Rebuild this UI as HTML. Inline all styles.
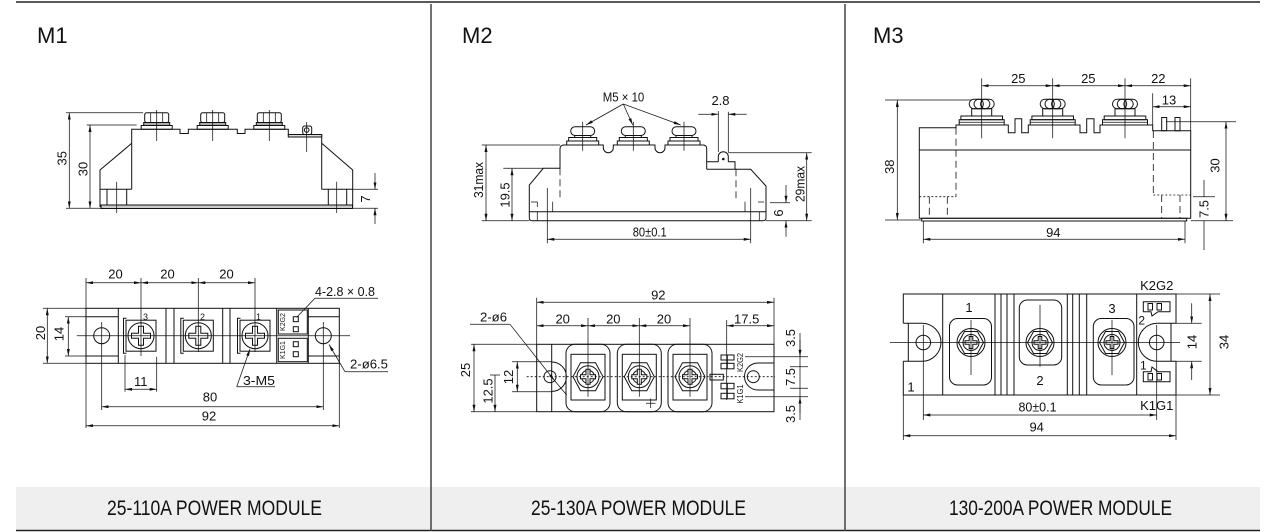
<!DOCTYPE html>
<html><head><meta charset="utf-8">
<style>
html,body{margin:0;padding:0;background:#fff;}
svg{display:block;}
.o{fill:none;stroke:#111;stroke-width:1}
.d{fill:none;stroke:#111;stroke-width:.75}
.dm{fill:none;stroke:#111;stroke-width:.75;marker-start:url(#ar);marker-end:url(#ar)}
.da{fill:none;stroke:#111;stroke-width:.75;marker-end:url(#ar)}
.ds{fill:none;stroke:#111;stroke-width:.8;stroke-dasharray:7 4}
.dt{fill:none;stroke:#111;stroke-width:.8;stroke-dasharray:2 2}
text{font-family:"Liberation Sans",Arial,sans-serif;font-size:13px;fill:#111}
.h{font-size:22px}
.f{font-size:21px}
</style></head><body>
<svg width="1286" height="532" viewBox="0 0 1286 532" xmlns="http://www.w3.org/2000/svg">
<defs>
<marker id="ar" viewBox="0 0 7 3" refX="7" refY="1.5" markerWidth="7" markerHeight="3" markerUnits="userSpaceOnUse" orient="auto-start-reverse"><path d="M0,0 L7,1.5 L0,3 z" fill="#111"/></marker>
<g id="m1t">
<rect class="o" x="-15.5" y="125.5" width="31" height="3.8"/>
<rect class="o" x="-13" y="122.5" width="26" height="3" style="fill:#aaa"/>
<rect class="o" x="-12" y="112.7" width="24" height="9.8" rx="2"/>
<path class="d" d="M-6,112.7V122.5M6,112.7V122.5M0,110V141"/>
</g>
<g id="m1s">
<path class="o" d="M-14.5,-17.5H-17.5V17.5H-14.5"/>
<rect class="o" x="-15" y="-15.5" width="30" height="31"/>
<circle class="o" r="13"/>
<path class="o" style="fill:#fff" d="M-2.5,-9.5H2.5V-2.5H9.5V2.5H2.5V9.5H-2.5V2.5H-9.5V-2.5H-2.5Z"/>
</g>
<g id="m2t">
<rect class="o" x="-12" y="126.7" width="24" height="8.8" rx="4.4"/>
<rect class="o" x="-8" y="135.5" width="16" height="2"/>
<rect class="o" x="-14" y="137.5" width="28" height="3.5"/>
<rect class="o" x="-16" y="141" width="32" height="4"/>
<path class="d" d="M0,121.7V150.7"/>
</g>
<g id="m2s">
<polygon class="o" points="-15,0 -7.5,-14 7.5,-14 15,0 7.5,14 -7.5,14"/>
<circle class="o" r="11"/>
<circle class="o" r="6.5"/>
<path class="o" style="fill:#fff" d="M-2,-7.5H2V-2H7.5V2H2V7.5H-2V2H-7.5V-2H-2Z"/>
</g>
<g id="m2f">
<rect class="o" x="-22" y="-32.4" width="44" height="67.4" rx="9"/>
<rect class="o" x="-17" y="-22.4" width="34" height="45.7"/>
<use href="#m2s"/>
<path class="d" d="M0,-58.7V20"/>
</g>
<g id="m3t">
<rect class="o" x="-22.5" y="119.7" width="45" height="5.3"/>
<path class="d" d="M-22.5,122.3H22.5"/>
<rect class="o" x="-20.8" y="116" width="41.6" height="3.7"/>
<rect class="o" x="-10" y="108.7" width="20" height="7.3"/>
<rect class="o" x="-12.5" y="99.3" width="25" height="9.4" rx="4.7"/>
<circle class="o" cx="-3" cy="104" r="4.7"/>
<circle class="o" cx="3.5" cy="104" r="4.7"/>
<path class="d" d="M0,78.3V138.3"/>
</g>
<g id="m3s">
<circle class="o" r="14"/>
<polygon class="o" points="-12.5,0 -6.5,-11 6.5,-11 12.5,0 6.5,11 -6.5,11"/>
<circle class="o" r="8"/>
<path class="o" style="fill:#fff" d="M-1.8,-6H1.8V-1.8H6V1.8H1.8V6H-1.8V1.8H-6V-1.8H-1.8Z"/>
</g>
</defs>

<!-- frame -->
<rect x="16" y="487" width="1244" height="43" fill="#efefef"/>
<line x1="16" y1="2" x2="1260" y2="2" stroke="#222" stroke-width="1.6"/>
<line x1="16" y1="530.5" x2="1260" y2="530.5" stroke="#222" stroke-width="1.6"/>
<line x1="431" y1="4" x2="431" y2="531" stroke="#444" stroke-width="1.5"/>
<line x1="845" y1="4" x2="845" y2="531" stroke="#444" stroke-width="1.5"/>
<text class="h" x="37" y="43">M1</text>
<text class="h" x="462" y="43">M2</text>
<text class="h" x="873" y="43">M3</text>
<text class="f" x="107" y="515" textLength="215" lengthAdjust="spacingAndGlyphs">25-110A POWER MODULE</text>
<text class="f" x="531" y="515" textLength="215" lengthAdjust="spacingAndGlyphs">25-130A POWER MODULE</text>
<text class="f" x="949" y="515" textLength="223" lengthAdjust="spacingAndGlyphs">130-200A POWER MODULE</text>

<!-- ================= M1 side ================= -->
<path class="o" d="M100,207V170L131.7,143.3"/>
<path class="o" d="M131.7,189.3V129.3H180V133.5H188.3V129.3H237.3V133.5H245V129.3H288.3V134.5H321.7V189.3"/>
<rect class="o" x="288.3" y="134.5" width="33.4" height="2.5" style="fill:#ddd"/>
<path class="o" d="M321.7,143.3L352.7,170V207"/>
<path class="o" d="M100,189.3H131.7M321.7,189.3H352.7"/>
<rect class="o" x="101" y="205" width="251.5" height="3.5" style="fill:#ccc"/>
<path class="o" d="M107,189.3V205M126.7,189.3V205M328.3,189.3V205M346.7,189.3V205"/>
<path class="d" d="M116.7,181.7V213M336.7,181.7V213"/>
<use href="#m1t" x="156.7"/>
<use href="#m1t" x="212.7"/>
<use href="#m1t" x="269.3"/>
<rect class="o" x="302.7" y="126" width="9" height="8.5" rx="2"/>
<circle class="o" cx="306.7" cy="130" r="2.3"/>
<path class="d" d="M306.7,122V152"/>
<path class="d" d="M66,112.7H143M66,208.3H103M86.7,125H136.7"/>
<path class="dm" d="M69.3,112.7V208.3"/>
<path class="dm" d="M90,125V208.3"/>
<text transform="translate(66.5,158.3) rotate(-90)" text-anchor="middle">35</text>
<text transform="translate(87.3,169) rotate(-90)" text-anchor="middle">30</text>
<path class="d" d="M352.7,189.3H378M352.7,208.3H378"/>
<path class="da" d="M375,173V189.3"/>
<path class="da" d="M375,224V208.3"/>
<text transform="translate(370,199) rotate(-90)" text-anchor="middle">7</text>

<!-- ================= M1 top ================= -->
<rect class="o" x="86" y="308.3" width="253.3" height="55"/>
<path class="o" d="M86,316.7H118.3M86,356H118.3M308.3,316.7H339.3M308.3,356H339.3"/>
<path class="o" d="M118.3,308.3V363.3M166,308.3V363.3M174,308.3V363.3M222.7,308.3V363.3M230,308.3V363.3M276.7,308.3V363.3M308.3,308.3V363.3"/>
<circle class="o" cx="101.7" cy="335.7" r="8"/>
<circle class="o" cx="323.3" cy="335.7" r="8"/>
<rect class="o" x="278.3" y="310" width="29" height="24"/>
<rect class="o" x="278.3" y="338.3" width="29" height="23.4"/>
<rect class="o" x="293.3" y="316.7" width="5" height="5"/>
<rect class="o" x="293.3" y="326.7" width="5" height="5"/>
<rect class="o" x="293.3" y="341.7" width="5" height="5"/>
<rect class="o" x="293.3" y="351.7" width="5" height="5"/>
<text transform="translate(285,322) rotate(-90)" text-anchor="middle" style="font-size:7px">K2G2</text>
<text transform="translate(285,350) rotate(-90)" text-anchor="middle" style="font-size:7px">K1G1</text>
<use href="#m1s" x="141" y="335.7"/>
<use href="#m1s" x="198.3" y="335.7"/>
<use href="#m1s" x="255" y="335.7"/>
<text x="143" y="320" style="font-size:9px">3</text>
<text x="200" y="320" style="font-size:9px">2</text>
<text x="256" y="320" style="font-size:9px">1</text>
<path class="d" d="M76.7,335.7H350"/>
<path class="d" d="M101.7,322V410M323.3,322V410M141,278V356M198.3,278V352M255,278V352M86,278V428M339.3,363.3V428"/>
<path class="dm" d="M86,282.7H141"/>
<path class="dm" d="M141,282.7H198.3"/>
<path class="dm" d="M198.3,282.7H255"/>
<text x="115.5" y="278.3" text-anchor="middle">20</text>
<text x="167.5" y="278.3" text-anchor="middle">20</text>
<text x="226.5" y="278.3" text-anchor="middle">20</text>
<path class="d" d="M43,308.3H86M43,363.3H86M65,316.7H86M65,356H86"/>
<path class="dm" d="M47.3,308.3V363.3"/>
<path class="dm" d="M68.3,316.7V356"/>
<text transform="translate(45,333) rotate(-90)" text-anchor="middle">20</text>
<text transform="translate(63.3,334) rotate(-90)" text-anchor="middle">14</text>
<path class="d" d="M125,355V391.7M156.7,356.7V391.7"/>
<path class="dm" d="M125,389.3H156.7"/>
<text x="140.8" y="386" text-anchor="middle">11</text>
<path class="dm" d="M101.7,406.7H323.3"/>
<text x="210" y="401.7" text-anchor="middle">80</text>
<path class="dm" d="M86,425.7H339.3"/>
<text x="209" y="420.7" text-anchor="middle">92</text>
<text x="315" y="296" textLength="60" lengthAdjust="spacingAndGlyphs">4-2.8 × 0.8</text>
<path class="d" d="M378,298.3H315L296.7,317.3"/>
<text x="350" y="368.3" textLength="38" lengthAdjust="spacingAndGlyphs">2-ø6.5</text>
<path class="d" d="M388,371.7H345"/>
<path class="da" d="M345,371.7L329,344.5"/>
<text x="243" y="385" textLength="32" lengthAdjust="spacingAndGlyphs">3-M5</text>
<path class="d" d="M275,386.7H236.7"/>
<path class="da" d="M236.7,386.7L250,349"/>

<!-- ================= M2 side ================= -->
<path class="o" d="M529.3,217.7V185L543.3,168.3H560V149Q560,145 564,145H603.3V147.7A5,5 0 0 0 613.3,147.7V145H655V147.7A5,5 0 0 0 665,147.7V145H703Q706.7,145 706.7,149V169.3"/>
<path class="o" d="M706.7,161.7H718.3M728.3,161.7H735V169.3M706.7,169.3H750.7L766,186V217.7Q766,220.7 763,220.7H532.3Q529.3,220.7 529.3,217.7"/>
<path class="o" d="M718.3,161.7V156.7A5,5 0 0 1 728.3,156.7V161.7"/>
<circle cx="723.3" cy="159" r="1.3" fill="#111"/>
<path class="o" d="M529.3,211.7H766"/>
<path class="ds" d="M560,168.3V200M736,169.3V200"/>
<path class="d" d="M531,202H537.3V207M552.7,201.7V211.7M537.3,211.7V220.7M745,201.7V211.7M759.3,211.7V220.7M758,202H764"/>
<path class="d" d="M547.3,188V243.3M750.7,188V243.3"/>
<use href="#m2t" x="582.7"/>
<use href="#m2t" x="633.3"/>
<use href="#m2t" x="684"/>
<text x="602.7" y="101.7" textLength="41.6" lengthAdjust="spacingAndGlyphs">M5 × 10</text>
<path class="da" d="M623.3,104L586,125"/>
<path class="da" d="M623.3,104L632.7,125"/>
<path class="da" d="M623.3,104L680.7,125"/>
<path class="d" d="M718.3,111V152M728.3,111.7V152"/>
<path class="da" d="M698.3,114.3H718.3"/>
<path class="da" d="M746.7,114.3H728.3"/>
<text x="720.5" y="105" text-anchor="middle">2.8</text>
<path class="d" d="M481.7,145H560M481.7,220.7H529.3M503.3,168.3H543.3M728,152.7H811.7M766,220.7H811.7M770,202.7H790"/>
<path class="dm" d="M486,145V220.7"/>
<path class="dm" d="M512,168.3V220.7"/>
<path class="dm" d="M806.7,152.7V220.7"/>
<path class="da" d="M786,185V202.7"/>
<path class="da" d="M786,236.7V220.7"/>
<path class="dm" d="M547.3,239.3H750.7"/>
<text transform="translate(483,180) rotate(-90)" text-anchor="middle" textLength="36" lengthAdjust="spacingAndGlyphs">31max</text>
<text transform="translate(509.5,195) rotate(-90)" text-anchor="middle">19.5</text>
<text transform="translate(804.5,184) rotate(-90)" text-anchor="middle" textLength="36" lengthAdjust="spacingAndGlyphs">29max</text>
<text transform="translate(783,213) rotate(-90)" text-anchor="middle">6</text>
<text x="649.7" y="236.7" text-anchor="middle" textLength="34" lengthAdjust="spacingAndGlyphs">80±0.1</text>

<!-- ================= M2 top ================= -->
<rect class="o" x="536.7" y="344.3" width="237.3" height="67.4"/>
<path class="o" d="M551.7,344.3V411.7"/>
<path class="o" d="M551.7,362A14.7,14.7 0 0 1 551.7,391.4"/>
<circle class="o" cx="550" cy="376.7" r="6"/>
<circle class="o" cx="753.3" cy="376.7" r="6"/>
<use href="#m2f" x="588" y="376.7"/>
<use href="#m2f" x="639.3" y="376.7"/>
<use href="#m2f" x="690" y="376.7"/>
<path class="d" d="M646,403.3H655.5M650.7,398.5V408"/>
<rect class="o" x="721" y="355" width="13" height="5"/>
<rect class="o" x="721" y="363.3" width="13" height="5.5"/>
<rect class="o" x="721" y="383.3" width="13" height="5.5"/>
<rect class="o" x="721" y="393.3" width="13" height="5.5"/>
<path class="d" d="M727.5,355V368.8M727.5,383.3V398.8"/>
<rect class="o" x="710" y="374.3" width="13.3" height="5.7"/>
<text transform="translate(743,362.5) rotate(-90)" text-anchor="middle" style="font-size:8px" textLength="19" lengthAdjust="spacingAndGlyphs">K2G2</text>
<text transform="translate(743,394) rotate(-90)" text-anchor="middle" style="font-size:8px" textLength="19" lengthAdjust="spacingAndGlyphs">K1G1</text>
<path class="o" d="M774,363H758A13.5,13.5 0 0 0 758,390H774"/>
<path class="d" d="M745,356.7H808M745,396.7H808M790,366.7H808M790,388.3H808"/>
<path class="d" d="M800,333V420"/>
<path class="da" d="M800,340V356.7"/>
<path class="da" d="M800,413V396.7"/>
<text transform="translate(795,338) rotate(-90)" text-anchor="middle">3.5</text>
<text transform="translate(795,377) rotate(-90)" text-anchor="middle">7.5</text>
<text transform="translate(795,414) rotate(-90)" text-anchor="middle">3.5</text>
<path class="dt" d="M526.7,376.7H775"/>
<path class="d" d="M471,344.3H536.7M471,411.7H536.7M512,361.7H551.7M512,391.7H551.7M490,375H500"/>
<path class="dm" d="M474,344.3V411.7"/>
<path class="da" d="M495,375V411.7"/>
<path class="dm" d="M517.3,361.7V391.7"/>
<text transform="translate(470,370) rotate(-90)" text-anchor="middle">25</text>
<text transform="translate(492.5,391) rotate(-90)" text-anchor="middle">12.5</text>
<text transform="translate(513,377) rotate(-90)" text-anchor="middle">12</text>
<path class="d" d="M536.7,297.7V344.3M774,297.7V344.3M726.7,320V400"/>
<path class="dm" d="M536.7,302.3H774"/>
<path class="dm" d="M536.7,325.7H588"/>
<path class="dm" d="M588,325.7H639.3"/>
<path class="dm" d="M639.3,325.7H690"/>
<path class="dm" d="M726.7,325.7H774"/>
<text x="658.3" y="299.5" text-anchor="middle">92</text>
<text x="562.7" y="323.5" text-anchor="middle">20</text>
<text x="613.3" y="323.5" text-anchor="middle">20</text>
<text x="664" y="323.5" text-anchor="middle">20</text>
<text x="746.7" y="323.5" text-anchor="middle">17.5</text>
<text x="480" y="321.7" textLength="27" lengthAdjust="spacingAndGlyphs">2-ø6</text>
<path class="d" d="M470,324.3H510"/>
<path class="da" d="M510,324.3L554.5,380.5"/>
<path class="d" d="M554.5,380.5L566.7,395"/>

<!-- ================= M3 side ================= -->
<path class="o" d="M919.3,218.3V127.7H956V125H1008.3V132.7H1015V118.7H1021.7V132.7H1028.3V125H1080V132.7H1086.7V118.7H1094V132.7H1100V125H1152.7V130.7H1190.7V218.3Z"/>
<rect class="o" x="921.7" y="218.3" width="265" height="2.7"/>
<path class="o" d="M919.3,150H1190.7"/>
<use href="#m3t" x="981.7"/>
<use href="#m3t" x="1052.7"/>
<use href="#m3t" x="1125"/>
<rect class="o" x="1161.7" y="117.5" width="5" height="13.2"/>
<rect class="o" x="1175" y="117.5" width="5" height="13.2"/>
<path class="ds" d="M956,127.7V196.7M929.3,196.7V218M947.3,196.7V218M1153.3,131V195M1161.7,195V218M1180,195V218"/>
<path class="dt" d="M919.3,196.7H956M1153.3,195H1190.7"/>
<path class="d" d="M885,100H971.7M885,220H921M1190.7,78.3V130.7M1152.7,93.3V125M1166,121.7H1236M1190.7,220.7H1233M1193,196.7H1215M923.3,221V243.3M1185,221V243.3"/>
<path class="dm" d="M897.3,100V220"/>
<path class="dm" d="M981.7,85.7H1052.7"/>
<path class="dm" d="M1052.7,85.7H1125"/>
<path class="dm" d="M1125,85.7H1190.7"/>
<path class="dm" d="M1152.7,106.7H1190.7"/>
<path class="dm" d="M1226,121.7V220.7"/>
<path class="d" d="M1204,180V196.7M1204,220.7V250"/>
<path class="dm" d="M923.3,239.3H1185"/>
<text x="1018.3" y="83" text-anchor="middle">25</text>
<text x="1088.3" y="83" text-anchor="middle">25</text>
<text x="1158.3" y="83" text-anchor="middle">22</text>
<text x="1169" y="104.5" text-anchor="middle">13</text>
<text transform="translate(894,166.7) rotate(-90)" text-anchor="middle">38</text>
<text transform="translate(1219.5,165.5) rotate(-90)" text-anchor="middle">30</text>
<text transform="translate(1208.5,209) rotate(-90)" text-anchor="middle">7.5</text>
<text x="1053.3" y="237" text-anchor="middle">94</text>

<!-- ================= M3 top ================= -->
<path class="o" d="M903.3,323.3V294H1176V323.3M1176,361.3V395H903.3V361.3"/>
<path class="o" d="M903.3,323.3H922A19,19 0 0 1 922,361.3H903.3"/>
<path class="o" d="M908.3,323.3V361.3"/>
<path class="o" d="M1176,323.3H1157.3A19,19 0 0 0 1157.3,361.3H1176"/>
<path class="o" d="M1171,323.3V361.3"/>
<circle class="o" cx="923.3" cy="342.5" r="7.3"/>
<circle class="o" cx="1156.7" cy="342.5" r="7.3"/>
<path class="o" d="M942.7,294V395M995,294V395M1001,294V395M1007,294V395M1014,294V395M1067.3,294V395M1072.7,294V395M1079.3,294V395M1086.7,294V395M1136.7,294V395"/>
<rect class="o" x="949.5" y="318.5" width="42" height="66.5" rx="8"/>
<rect class="o" x="1019.3" y="300" width="42.4" height="65" rx="8"/>
<rect class="o" x="1093.3" y="318.5" width="40.7" height="66.5" rx="8"/>
<use href="#m3s" x="971" y="342.5"/>
<use href="#m3s" x="1040" y="342.5"/>
<use href="#m3s" x="1112" y="342.5"/>
<path class="d" d="M971,320V375M1040,305V366.7M1112,320V375"/>
<text x="969" y="312" text-anchor="middle">1</text>
<text x="1040" y="385" text-anchor="middle">2</text>
<text x="1112" y="313" text-anchor="middle">3</text>
<text x="911" y="391.7" text-anchor="middle">1</text>
<path class="o" d="M1143.3,301.7H1170V311.7H1158L1152,316L1151,311.7H1143.3Z"/>
<rect class="o" x="1148" y="303.5" width="4.5" height="6.5"/>
<rect class="o" x="1157" y="303.5" width="4.5" height="6.5"/>
<path class="o" d="M1143.3,381.7H1170V371.7H1158L1152,367L1151,371.7H1143.3Z"/>
<rect class="o" x="1148" y="373.5" width="4.5" height="6.5"/>
<rect class="o" x="1157" y="373.5" width="4.5" height="6.5"/>
<text x="1141.7" y="324.5" text-anchor="middle" style="font-size:12px">2</text>
<text x="1143.3" y="369.5" text-anchor="middle" style="font-size:12px">1</text>
<text x="1156.7" y="290" text-anchor="middle">K2G2</text>
<text x="1156.7" y="410" text-anchor="middle">K1G1</text>
<path class="d" d="M890,342.5H1180"/>
<path class="d" d="M923.3,325V420M1156.7,325V420"/>
<path class="d" d="M1176,323.3H1201.7M1176,361.3H1201.7M1176,294H1220M1176,395H1220M903.3,395V440M1176,395V440"/>
<path class="da" d="M1191.7,303.3V323.3"/>
<path class="da" d="M1191.7,380V361.3"/>
<path class="dm" d="M1210,294V395"/>
<text transform="translate(1196.5,342) rotate(-90)" text-anchor="middle">14</text>
<text transform="translate(1228.3,342) rotate(-90)" text-anchor="middle">34</text>
<path class="dm" d="M923.3,415H1156.7"/>
<text x="1037.5" y="411.7" text-anchor="middle" textLength="38" lengthAdjust="spacingAndGlyphs">80±0.1</text>
<path class="dm" d="M903.3,435.7H1176"/>
<text x="1036.7" y="431.5" text-anchor="middle">94</text>
</svg>
</body></html>
